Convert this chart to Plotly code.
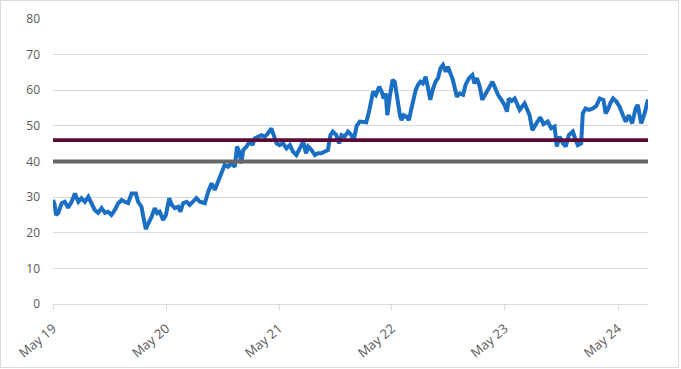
import plotly.graph_objects as go

dates = [
    "2019-05-01","2019-05-06","2019-05-11","2019-05-18","2019-05-29","2019-06-08","2019-06-19","2019-06-30",
    "2019-07-11","2019-07-22","2019-08-01","2019-08-12","2019-08-23","2019-09-03","2019-09-13","2019-09-24",
    "2019-10-05","2019-10-16","2019-10-26","2019-11-06","2019-11-17","2019-11-28","2019-12-09","2019-12-19",
    "2019-12-30","2020-01-10","2020-01-24","2020-01-31","2020-02-11","2020-02-19","2020-02-25","2020-03-04",
    "2020-03-15","2020-03-25","2020-04-02","2020-04-10","2020-04-21","2020-04-30","2020-05-11","2020-05-19",
    "2020-05-29","2020-06-09","2020-06-16","2020-06-25","2020-07-06","2020-07-16","2020-07-27","2020-08-07",
    "2020-08-18","2020-09-03","2020-09-14","2020-09-25","2020-10-05","2020-10-16","2020-10-27","2020-11-06",
    "2020-11-17","2020-11-28","2020-12-09","2020-12-16","2020-12-23","2020-12-30","2021-01-05","2021-01-16",
    "2021-01-26","2021-02-04","2021-02-11","2021-02-22","2021-03-05","2021-03-16","2021-03-26","2021-04-06",
    "2021-04-14","2021-04-23","2021-05-03","2021-05-14","2021-05-25","2021-06-05","2021-06-15","2021-06-26",
    "2021-07-07","2021-07-18","2021-07-27","2021-08-03","2021-08-14","2021-08-25","2021-09-04","2021-09-15",
    "2021-09-26","2021-10-06","2021-10-14","2021-10-22","2021-11-02","2021-11-11","2021-11-19","2021-11-29",
    "2021-12-10","2021-12-21","2021-12-28","2022-01-07","2022-01-17","2022-01-27","2022-02-07","2022-02-16",
    "2022-02-24","2022-03-01","2022-03-10","2022-03-21","2022-03-29","2022-04-04","2022-04-11","2022-04-16",
    "2022-04-24","2022-05-03","2022-05-10","2022-05-18","2022-05-27","2022-06-01","2022-06-08","2022-06-17",
    "2022-06-25","2022-07-03","2022-07-08","2022-07-17","2022-07-24","2022-08-01","2022-08-09","2022-08-18",
    "2022-08-26","2022-09-02","2022-09-11","2022-09-19","2022-09-27","2022-10-05","2022-10-13","2022-10-22",
    "2022-10-29","2022-11-06","2022-11-14","2022-11-23","2022-11-27","2022-12-06","2022-12-17","2022-12-25",
    "2023-01-05","2023-01-16","2023-01-23","2023-01-31","2023-02-09","2023-02-17","2023-02-28","2023-03-11",
    "2023-03-22","2023-03-29","2023-04-09","2023-04-20","2023-04-30","2023-05-08","2023-05-14","2023-05-23",
    "2023-06-02","2023-06-18","2023-07-04","2023-07-20","2023-07-29","2023-08-11","2023-08-24","2023-09-03",
    "2023-09-17","2023-09-28","2023-10-09","2023-10-16","2023-10-25","2023-11-05","2023-11-14","2023-11-24",
    "2023-12-07","2023-12-16","2023-12-23","2024-01-03","2024-01-08","2024-01-17","2024-01-28","2024-02-10",
    "2024-02-21","2024-03-03","2024-03-15","2024-03-22","2024-03-29","2024-04-06","2024-04-15","2024-04-26",
    "2024-05-06","2024-05-17","2024-05-26","2024-06-05","2024-06-16","2024-06-27","2024-07-04","2024-07-15",
    "2024-07-26","2024-08-06",
]

values = [
    29.2,28.0,25.0,25.5,28.3,28.7,27.0,28.7,
    31.0,28.7,29.7,28.7,30.1,28.3,26.4,25.6,
    26.9,25.6,25.9,25.0,26.4,28.3,29.2,28.7,
    28.3,31.0,31.0,28.7,27.3,23.6,21.0,22.6,
    24.5,26.9,25.5,25.9,23.6,25.0,29.7,27.8,
    26.9,27.3,25.9,28.3,28.7,27.8,28.7,29.7,
    28.7,28.3,31.5,33.9,32.0,34.3,37.1,39.0,
    38.5,39.5,38.5,44.2,42.8,39.5,43.2,44.2,
    45.6,44.6,46.5,47.0,47.4,47.0,47.9,49.3,
    47.0,45.1,44.6,45.1,43.7,44.6,42.8,41.8,
    43.7,45.6,42.3,44.2,43.2,41.8,42.3,42.3,
    42.8,43.2,47.4,48.4,47.4,45.1,47.4,47.0,
    48.4,47.4,45.8,50.0,51.2,51.0,51.0,54.0,
    57.3,59.6,58.7,61.0,59.6,57.7,59.1,53.0,
    58.2,62.9,62.4,57.3,53.0,51.6,53.0,52.6,
    51.6,54.9,57.3,60.1,61.5,62.4,61.9,63.8,
    60.5,57.3,60.5,62.4,63.4,66.2,67.1,65.2,
    66.6,64.7,62.9,59.6,58.2,59.1,58.7,61.5,
    63.4,64.3,61.9,63.4,61.0,57.3,59.1,60.5,
    62.4,61.0,58.7,57.3,55.9,54.0,57.7,57.0,
    57.7,54.5,56.3,53.0,48.8,50.7,52.4,50.5,
    51.2,49.3,49.8,44.2,47.0,45.1,44.2,47.4,
    48.4,46.0,44.6,45.1,53.5,54.9,54.5,54.9,
    55.6,57.7,57.3,53.5,54.5,56.3,57.7,56.8,
    55.4,53.0,51.2,53.0,50.7,54.9,55.9,50.7,
    53.5,57.4,
]

upper_level = 46
lower_level = 40

tick_dates = ["2019-05-01", "2020-05-01", "2021-05-01", "2022-05-01", "2023-05-01", "2024-05-01"]
tick_labels = ["May 19", "May 20", "May 21", "May 22", "May 23", "May 24"]
y_ticks = [0, 10, 20, 30, 40, 50, 60, 70, 80]

W, H = 681, 369
ML, MR, MT, MB = 53, 33, 19, 65
PW, PH = W - ML - MR, H - MT - MB

fig = go.Figure()
fig.add_trace(go.Scatter(x=dates, y=values, mode="lines",
                         line=dict(color="#1a6fc4", width=4), hoverinfo="skip"))
fig.add_trace(go.Scatter(x=[dates[0], dates[-1]], y=[upper_level, upper_level], mode="lines",
                         line=dict(color="#5c0b37", width=3.8), hoverinfo="skip"))
fig.add_trace(go.Scatter(x=[dates[0], dates[-1]], y=[lower_level, lower_level], mode="lines",
                         line=dict(color="#666666", width=3.8), hoverinfo="skip"))

fig.update_layout(
    width=W, height=H,
    margin=dict(l=ML, r=MR, t=MT, b=MB),
    paper_bgcolor="white", plot_bgcolor="white",
    showlegend=False,
    font=dict(family="Open Sans, Liberation Sans, Arial, sans-serif", size=12, color="#595959"),
    xaxis=dict(
        type="date", range=[dates[0], dates[-1]], automargin=False,
        tickvals=tick_dates, ticktext=tick_labels, tickangle=-40,
        showgrid=False, zeroline=False,
        showline=True, linecolor="#d9d9d9", linewidth=1,
        ticks="outside", ticklen=5, tickcolor="#d9d9d9",
        ticklabelstandoff=6,
        tickfont=dict(size=13, color="#595959"),
    ),
    yaxis=dict(
        range=[0, 80], tickvals=y_ticks, automargin=False,
        showgrid=True, gridcolor="#d9d9d9", gridwidth=1,
        zeroline=False, showline=False, ticks="",
        ticklabelstandoff=12,
        tickfont=dict(size=12, color="#595959"),
    ),
    shapes=[dict(
        type="rect", xref="paper", yref="paper",
        x0=(-ML + 0.5) / PW, x1=1 + (MR - 2.5) / PW,
        y0=(-MB + 1.5) / PH, y1=1 + (MT - 0.5) / PH,
        line=dict(color="#d9d9d9", width=1), fillcolor="rgba(0,0,0,0)", layer="below",
    )],
)

fig.write_html("out.html", config={"displayModeBar": False},
               post_script="document.body.style.margin='0';document.body.style.overflow='hidden';")
